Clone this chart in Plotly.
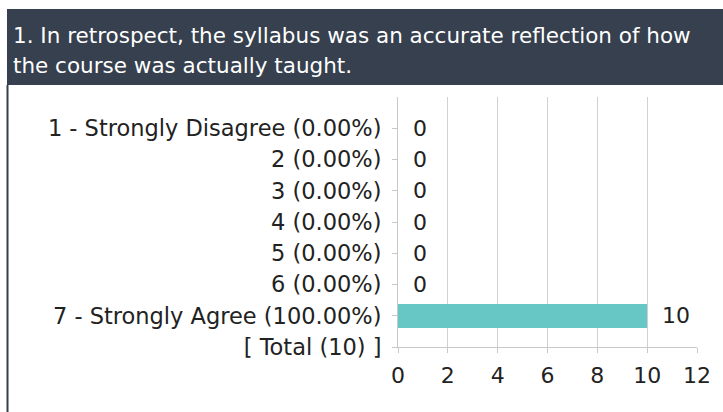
import plotly.graph_objects as go

title_lines = ["1. In retrospect, the syllabus was an accurate reflection of how",
               "the course was actually taught."]
categories = ["1 - Strongly Disagree (0.00%)", "2 (0.00%)", "3 (0.00%)", "4 (0.00%)",
              "5 (0.00%)", "6 (0.00%)", "7 - Strongly Agree (100.00%)", "[ Total (10) ]"]
counts = [0, 0, 0, 0, 0, 0, 10, None]
x_ticks = [0, 2, 4, 6, 8, 10, 12]

W, H = 723, 412
PL, PR, PT, PB = 398, 697, 97, 347  # plot area in pixels


def px(x):
    return (x - PL) / (PR - PL)


def py(y):
    return (PB - y) / (PB - PT)


FONT = "DejaVu Sans"
HEADER = "#36404e"

fig = go.Figure()
fig.add_trace(go.Bar(
    y=categories, x=counts, orientation="h", width=0.78,
    marker=dict(color="#67c7c5", line=dict(width=0)),
    hoverinfo="skip"))

# value labels next to each bar
for c, v in zip(categories, counts):
    if v is None:
        continue
    fig.add_annotation(x=v, y=c, xref="x", yref="y", text=str(v), showarrow=False,
                       xanchor="left", xshift=13, font=dict(family=FONT, size=22, color="#222"))

# header band and left border
fig.add_shape(type="rect", xref="paper", yref="paper", x0=px(7), x1=px(W), y0=py(85), y1=py(9),
              fillcolor=HEADER, line=dict(width=0), layer="below")
fig.add_shape(type="line", xref="paper", yref="paper", x0=px(7.5), x1=px(7.5), y0=py(85), y1=py(H),
              line=dict(color=HEADER, width=2))

for i, line in enumerate(title_lines):
    fig.add_annotation(x=px(11), y=py(35 + 31 * i), xref="paper", yref="paper", text=line,
                       showarrow=False, xanchor="left", yanchor="middle",
                       font=dict(family=FONT, size=21.5, color="white"))

fig.update_layout(
    width=W, height=H,
    margin=dict(l=PL, r=W - PR, t=PT, b=H - PB, pad=0),
    paper_bgcolor="white", plot_bgcolor="white",
    showlegend=False, bargap=0,
    font=dict(family=FONT, size=22, color="#222"),
)
fig.update_xaxes(range=[0, 12], tickvals=x_ticks, showgrid=True, gridcolor="#d0d0d0",
                 zeroline=False, showline=True, linecolor="#c8c8c8",
                 ticks="outside", ticklen=5, tickcolor="#c8c8c8", ticklabelstandoff=4,
                 tickfont=dict(family=FONT, size=22, color="#222"))
fig.update_yaxes(type="category", categoryorder="array", categoryarray=categories,
                 range=[7, -1], showgrid=False, zeroline=False, showline=True, linecolor="#c8c8c8",
                 ticks="outside", ticklen=5, tickcolor="#c8c8c8", ticklabelstandoff=6,
                 tickfont=dict(family=FONT, size=22.5, color="#222"))

fig.write_html("out.html", config={"displayModeBar": False},
               post_script="document.body.style.margin='0';")
